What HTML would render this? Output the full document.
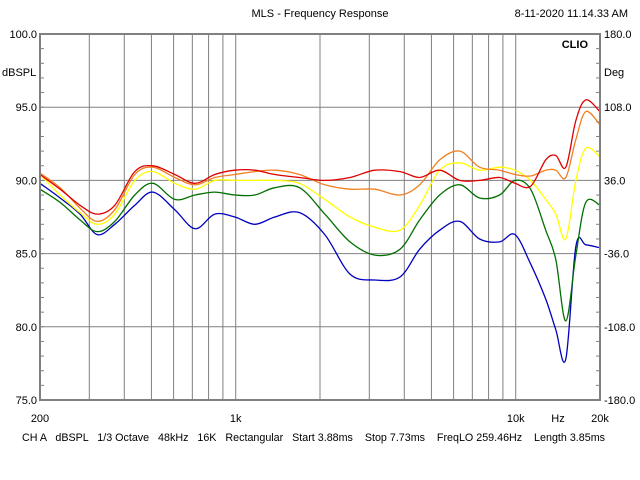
<!DOCTYPE html>
<html><head><meta charset="utf-8"><style>
body{margin:0;background:#fff;}
svg{display:block;font-family:"Liberation Sans",sans-serif;font-size:11px;}
</style></head><body>
<svg width="640" height="480" viewBox="0 0 640 480">
<rect width="640" height="480" fill="#fff"/>
<text x="320" y="17" text-anchor="middle">MLS - Frequency Response</text>
<text x="628" y="17" text-anchor="end">8-11-2020 11.14.33 AM</text>
<g id="grid"></g>
<g id="ticks"></g>
<g id="series"></g>
<rect x="40" y="34" width="560" height="366" fill="none" stroke="#808080" stroke-width="2"/>
<text x="588" y="48" text-anchor="end" font-weight="bold">CLIO</text>
<text x="2" y="76">dBSPL</text>
<text x="604" y="76">Deg</text>
<g id="labels"></g>
<text x="558" y="422" text-anchor="middle">Hz</text>
<text x="22" y="441" textLength="583" lengthAdjust="spacingAndGlyphs" xml:space="preserve">CH A   dBSPL   1/3 Octave   48kHz   16K   Rectangular   Start 3.88ms    Stop 7.73ms    FreqLO 259.46Hz    Length 3.85ms</text>
</svg>
<script>
const freqs=[200,236,278,320,370,436,506,606,716,842,993,1170,1380,1690,2080,2560,3140,3860,4540,5350,6310,7430,8760,9940,11300,12800,13900,15100,16400,17800,20000];
const redDb=[90.4,89.4,88.3,87.7,88.3,90.6,91.0,90.4,89.8,90.4,90.7,90.7,90.4,90.2,90.0,90.2,90.7,90.6,90.2,90.7,90.0,90.0,90.2,89.8,89.6,91.4,91.7,90.9,94.1,95.5,94.7];
const orangeDb=[90.5,89.5,88.1,87.2,88.0,90.4,90.9,90.2,89.7,90.2,90.4,90.6,90.7,90.4,89.7,89.4,89.4,89.0,89.7,91.4,92.0,90.9,90.7,90.4,90.3,90.7,90.7,90.2,92.8,94.7,93.8];
const yellowDb=[90.4,89.0,87.8,87.0,87.7,90.0,90.6,89.8,89.4,90.0,90.0,90.0,90.0,89.8,88.7,87.5,86.8,86.6,88.3,90.7,91.2,90.7,90.9,90.7,90.0,88.7,87.7,86.0,90.0,92.2,91.6];
const greenDb=[89.4,88.5,87.3,86.5,87.2,89.0,89.8,88.7,89.0,89.2,89.0,89.0,89.5,89.5,87.7,85.8,84.9,85.3,87.3,89.0,89.7,88.8,89.0,90.0,89.4,86.6,84.6,80.4,84.9,88.5,88.3];
const blueDb=[89.8,88.8,87.7,86.3,87.0,88.3,89.2,88.0,86.7,87.7,87.5,87.0,87.5,87.8,86.3,83.6,83.2,83.4,85.3,86.6,87.2,86.0,85.8,86.3,84.3,81.9,79.8,77.8,85.5,85.6,85.4];
const gridFreqs=[300,400,500,600,700,800,900,1000,2000,3000,4000,5000,6000,7000,8000,9000,10000];
const gridDb=[95,90,85,80];
const yLabels=["100.0","95.0","90.0","85.0","80.0","75.0"];
const y2Labels=["180.0","108.0","36.0","-36.0","-108.0","-180.0"];
const xLabelFreqs=[200,1000,10000,20000];
const xLabelText=["200","1k","10k","20k"];
const L=40,R=600,T=34,B=400,NS="http://www.w3.org/2000/svg";
const xs=f=>L+(Math.log10(f/200)/2)*(R-L);
const ys=d=>T+(100-d)/25*(B-T);
function mk(tag,at,parent){const e=document.createElementNS(NS,tag);for(const k in at)e.setAttribute(k,at[k]);parent.appendChild(e);return e;}
function smooth(p){let d='M'+p[0][0].toFixed(1)+','+p[0][1].toFixed(1);
for(let i=0;i<p.length-1;i++){const p0=p[i-1]||p[i],p1=p[i],p2=p[i+1],p3=p[i+2]||p2;
const c1=[p1[0]+(p2[0]-p0[0])/6,p1[1]+(p2[1]-p0[1])/6],c2=[p2[0]-(p3[0]-p1[0])/6,p2[1]-(p3[1]-p1[1])/6];
d+=' C'+c1.map(v=>v.toFixed(1)).join(',')+' '+c2.map(v=>v.toFixed(1)).join(',')+' '+p2[0].toFixed(1)+','+p2[1].toFixed(1);}
return d;}
const grid=document.getElementById('grid'),ticks=document.getElementById('ticks'),labels=document.getElementById('labels'),series=document.getElementById('series');
gridFreqs.forEach(f=>{const l=mk('line',{x1:xs(f),x2:xs(f),y1:T,y2:B,stroke:'#808080','stroke-width':1},grid);

});
gridDb.forEach(d=>{const l=mk('line',{x1:L,x2:R,y1:ys(d),y2:ys(d),stroke:'#808080','stroke-width':1},grid);

});
for(let d=75;d<=100;d++){const y=ys(d);const t=mk('line',{x1:L,x2:L+4,y1:y,y2:y,stroke:'#808080'},ticks);


const t2=mk('line',{x1:R-4,x2:R,y1:y,y2:y,stroke:'#808080'},ticks);

}
yLabels.forEach((s,i)=>{const y=ys(100-5*i)+4;
const a=mk('text',{x:37,y:y,'text-anchor':'end'},labels);a.textContent=s;


const b=mk('text',{x:604,y:y},labels);b.textContent=y2Labels[i];

});
xLabelFreqs.forEach((f,i)=>{const t=mk('text',{x:xs(f),y:422,'text-anchor':'middle'},labels);t.textContent=xLabelText[i];

});
const sets=[[blueDb,'#0000c0','blue'],[greenDb,'#007000','green'],[yellowDb,'#ffff00','yellow'],[orangeDb,'#f08020','orange'],[redDb,'#e00000','red']];
sets.forEach(([arr,c,n])=>{const pts=arr.map((d,i)=>[xs(freqs[i]),ys(d)]);
const p=mk('path',{d:smooth(pts),fill:'none',stroke:c,'stroke-width':1.3,'stroke-linejoin':'round'},series);

});
</script>
</body></html>
